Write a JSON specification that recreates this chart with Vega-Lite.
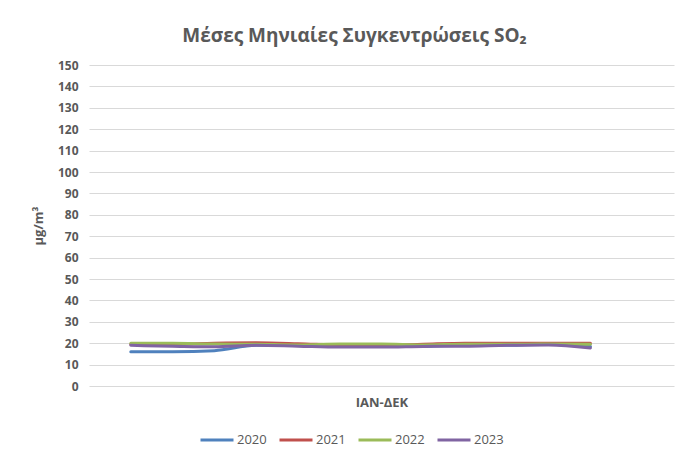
{
  "$schema": "https://vega.github.io/schema/vega-lite/v6.json",
  "width": 585,
  "height": 321,
  "autosize": {"type": "none"},
  "padding": {"left": 89, "top": 65, "right": 7, "bottom": 78},
  "background": "white",
  "title": {
    "text": "Μέσες Μηνιαίες Συγκεντρώσεις SO₂",
    "font": "Open Sans",
    "fontSize": 19,
    "fontWeight": "bold",
    "color": "#595959",
    "anchor": "middle",
    "dx": -27,
    "offset": 13
  },
  "data": {
    "values": [
      {"month": 1, "year": "2020", "value": 16.0},
      {"month": 2, "year": "2020", "value": 16.0},
      {"month": 3, "year": "2020", "value": 16.5},
      {"month": 4, "year": "2020", "value": 19.0},
      {"month": 5, "year": "2020", "value": 19.0},
      {"month": 6, "year": "2020", "value": 18.5},
      {"month": 7, "year": "2020", "value": 18.5},
      {"month": 8, "year": "2020", "value": 18.5},
      {"month": 9, "year": "2020", "value": 19.0},
      {"month": 10, "year": "2020", "value": 19.0},
      {"month": 11, "year": "2020", "value": 19.5},
      {"month": 12, "year": "2020", "value": 18.5},
      {"month": 1, "year": "2021", "value": 19.5},
      {"month": 2, "year": "2021", "value": 19.5},
      {"month": 3, "year": "2021", "value": 20.0},
      {"month": 4, "year": "2021", "value": 20.2},
      {"month": 5, "year": "2021", "value": 19.8},
      {"month": 6, "year": "2021", "value": 19.2},
      {"month": 7, "year": "2021", "value": 19.0},
      {"month": 8, "year": "2021", "value": 19.5},
      {"month": 9, "year": "2021", "value": 20.0},
      {"month": 10, "year": "2021", "value": 20.0},
      {"month": 11, "year": "2021", "value": 20.0},
      {"month": 12, "year": "2021", "value": 20.0},
      {"month": 1, "year": "2022", "value": 20.0},
      {"month": 2, "year": "2022", "value": 20.0},
      {"month": 3, "year": "2022", "value": 19.6},
      {"month": 4, "year": "2022", "value": 19.5},
      {"month": 5, "year": "2022", "value": 19.2},
      {"month": 6, "year": "2022", "value": 19.6},
      {"month": 7, "year": "2022", "value": 19.6},
      {"month": 8, "year": "2022", "value": 19.2},
      {"month": 9, "year": "2022", "value": 19.5},
      {"month": 10, "year": "2022", "value": 19.5},
      {"month": 11, "year": "2022", "value": 19.6},
      {"month": 12, "year": "2022", "value": 19.5},
      {"month": 1, "year": "2023", "value": 19.0},
      {"month": 2, "year": "2023", "value": 18.6},
      {"month": 3, "year": "2023", "value": 18.3},
      {"month": 4, "year": "2023", "value": 19.0},
      {"month": 5, "year": "2023", "value": 18.6},
      {"month": 6, "year": "2023", "value": 18.2},
      {"month": 7, "year": "2023", "value": 18.2},
      {"month": 8, "year": "2023", "value": 18.5},
      {"month": 9, "year": "2023", "value": 18.6},
      {"month": 10, "year": "2023", "value": 19.0},
      {"month": 11, "year": "2023", "value": 19.2},
      {"month": 12, "year": "2023", "value": 17.8}
    ]
  },
  "mark": {"type": "line", "strokeWidth": 3, "interpolate": "monotone", "strokeCap": "round"},
  "encoding": {
    "x": {
      "field": "month",
      "type": "quantitative",
      "scale": {"domain": [0, 14], "nice": false, "zero": false},
      "axis": {
        "title": "ΙΑΝ-ΔΕΚ",
        "labels": false,
        "ticks": false,
        "domain": false,
        "grid": false,
        "titleFont": "Open Sans",
        "titleFontSize": 13,
        "titleFontWeight": "bold",
        "titleColor": "#595959",
        "titlePadding": 10
      }
    },
    "y": {
      "field": "value",
      "type": "quantitative",
      "scale": {"domain": [0, 150], "nice": false},
      "axis": {
        "title": "μg/m³",
        "values": [0, 10, 20, 30, 40, 50, 60, 70, 80, 90, 100, 110, 120, 130, 140, 150],
        "ticks": false,
        "domain": false,
        "grid": true,
        "gridColor": "#d9d9d9",
        "gridWidth": 1,
        "labelFont": "Open Sans",
        "labelFontSize": 12,
        "labelFontWeight": "bold",
        "labelColor": "#595959",
        "labelPadding": 11,
        "titleFont": "Open Sans",
        "titleFontSize": 13,
        "titleFontWeight": "bold",
        "titleColor": "#595959",
        "titlePadding": 12
      }
    },
    "color": {
      "field": "year",
      "type": "nominal",
      "scale": {
        "domain": ["2020", "2021", "2022", "2023"],
        "range": ["#4F81BD", "#C0504D", "#9BBB59", "#8064A2"]
      },
      "legend": {
        "title": null,
        "orient": "none",
        "direction": "horizontal",
        "legendX": 110,
        "legendY": 357,
        "symbolType": "stroke",
        "symbolSize": 1089,
        "symbolStrokeWidth": 3,
        "labelFont": "Open Sans",
        "labelFontSize": 13,
        "labelColor": "#595959",
        "labelOffset": 2,
        "columnPadding": 6
      }
    }
  },
  "config": {"view": {"stroke": null}}
}
